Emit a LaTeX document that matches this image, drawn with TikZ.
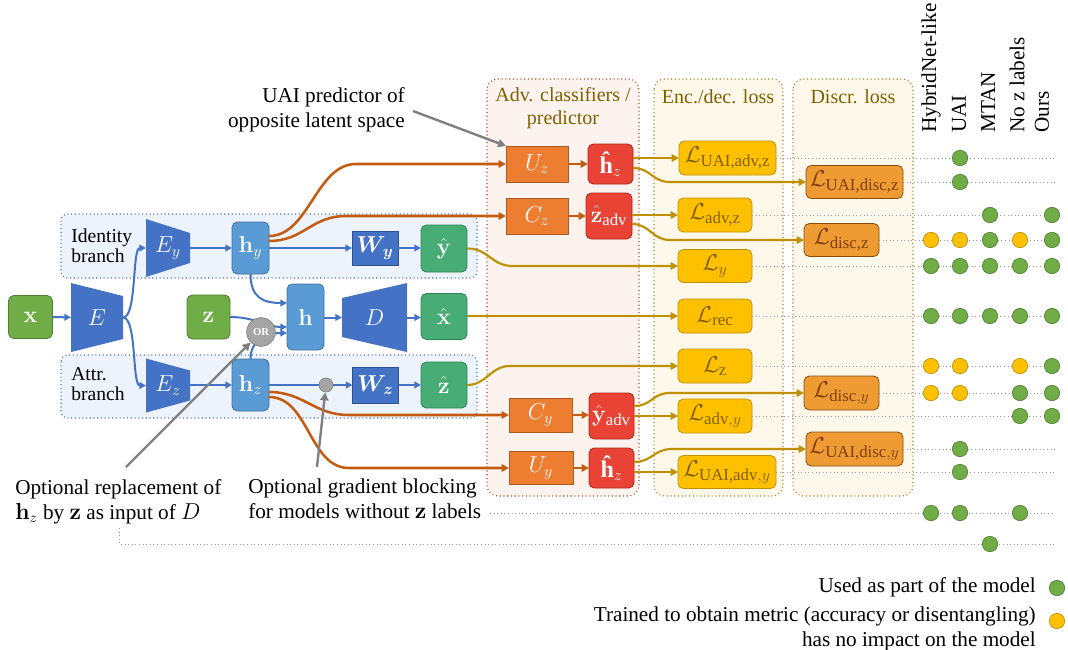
\documentclass[tikz,border=0pt]{standalone}
\usepackage{amsmath}
\usepackage[no-math]{fontspec}
\setmainfont{Liberation Serif}
\usetikzlibrary{arrows.meta,calc}
\definecolor{blueD}{HTML}{4472C4}
\definecolor{blueDd}{HTML}{2F528F}
\definecolor{blueL}{HTML}{5B9BD5}
\definecolor{blueLd}{HTML}{41719C}
\definecolor{greenA}{HTML}{70AD47}
\definecolor{greenAd}{HTML}{507E32}
\definecolor{greenB}{HTML}{48AC76}
\definecolor{greenBd}{HTML}{2E8555}
\definecolor{greyO}{HTML}{A5A5A5}
\definecolor{greyOd}{HTML}{7F7F7F}
\definecolor{orangeA}{HTML}{ED7D31}
\definecolor{orangeD}{HTML}{AE5A21}
\definecolor{redA}{HTML}{E94335}
\definecolor{redD}{HTML}{B02418}
\definecolor{yellowA}{HTML}{FFC000}
\definecolor{yellowD}{HTML}{BF9000}
\definecolor{discA}{HTML}{EE9B33}
\definecolor{discD}{HTML}{8A4A12}
\definecolor{discT}{HTML}{843C0C}
\definecolor{oliveT}{HTML}{7F6000}
\definecolor{lineO}{HTML}{C55A11}
\definecolor{lineG}{HTML}{BF9000}
\definecolor{annG}{HTML}{808080}
\definecolor{branchF}{HTML}{EDF3FC}
\definecolor{branchD}{HTML}{4F6FB0}
\definecolor{advF}{HTML}{FCF3EE}
\definecolor{advD}{HTML}{A0522D}
\definecolor{encF}{HTML}{FEF8EA}
\definecolor{encD}{HTML}{A08030}
\definecolor{rowC}{HTML}{9A9A9A}
\newcommand\fsN{\fontsize{18}{20}\selectfont}
\newcommand\fsA{\fontsize{15.9}{18.75}\selectfont}
\newcommand\fsT{\fontsize{15}{17.25}\selectfont}
\newcommand\fsB{\fontsize{14.7}{15.2}\selectfont}
\newcommand\fsL{\fontsize{18}{20}\selectfont}
\newcommand\hhat{\text{\textbf{ĥ}}}
\newcommand\trapfill[6]{%
  \fill[blueD] ({#1-#3/2},{#2-#4/2+#5}) -- ({#1+#3/2},{#2-#4/2+#6}) --
  ({#1+#3/2},{#2+#4/2-#6}) -- ({#1-#3/2},{#2+#4/2-#5}) -- cycle;}
\begin{document}
\begin{tikzpicture}[x=0.75pt,y=-0.75pt,
  sz/.style 2 args={minimum width=#1*0.75pt, minimum height=#2*0.75pt, inner sep=0pt, outer sep=0pt},
  wtxt/.style={text=white, font=\fsN},
  greenbox/.style={draw=greenAd, fill=greenA, rounded corners=4pt, line width=0.6pt, wtxt},
  outbox/.style={draw=greenBd, fill=greenB, rounded corners=4pt, line width=0.6pt, wtxt},
  latent/.style={draw=blueLd, fill=blueL, rounded corners=4pt, line width=0.6pt, wtxt},
  wbox/.style={draw=blueDd, fill=blueD, line width=0.6pt, wtxt},
  encnode/.style={wtxt},
  advbox/.style={draw=orangeD, fill=orangeA, line width=0.6pt, wtxt},
  predbox/.style={draw=redD, fill=redA, rounded corners=4pt, line width=0.6pt, wtxt},
  lossbox/.style={draw=yellowD, fill=yellowA, rounded corners=4pt, line width=0.6pt, text=oliveT, font=\fsL},
  discbox/.style={draw=discD, fill=discA, rounded corners=4pt, line width=0.6pt, text=discT, font=\fsL},
  bline/.style={draw=blueD, line width=1.5pt, -{Triangle[length=5pt,width=5pt]}},
  bplain/.style={draw=blueD, line width=1.5pt},
  oline/.style={draw=lineO, line width=1.9pt, -{Triangle[length=5.5pt,width=5.5pt]}},
  gline/.style={draw=lineG, line width=1.6pt, -{Triangle[length=5.5pt,width=5.5pt]}},
  annot/.style={draw=annG, line width=1.8pt, -{Triangle[length=6pt,width=6pt]}},
  rowline/.style={draw=rowC, line width=0.7pt, dotted},
  dotG/.style={circle, fill=greenA, draw=greenAd, line width=0.5pt, minimum size=11.5pt, inner sep=0pt},
  dotY/.style={circle, fill=yellowA, draw=yellowD, line width=0.5pt, minimum size=11.5pt, inner sep=0pt},
  panel/.style={rounded corners=8pt, dotted, line width=0.8pt},
  branch/.style={rounded corners=5pt, dotted, line width=0.8pt, draw=branchD, fill=branchF},
  ptitle/.style={text=oliveT, font=\fsT, align=center},
  hdr/.style={rotate=90, anchor=west, font=\fsA, inner sep=0pt},
  txt/.style={font=\fsA, inner sep=0pt}
]
\useasboundingbox (0,0) rectangle (1068,650);

% panels
\draw[panel, draw=advD, fill=advF] (487,79) rectangle (639,496);
\draw[panel, draw=encD, fill=encF] (654,79) rectangle (783,496);
\draw[panel, draw=encD, fill=encF] (793,79) rectangle (913,496);
\node[ptitle] (tadv) at (563,108) {Adv. classifiers /\\predictor};
\node[ptitle] (tenc) at (718,97) {Enc./dec. loss};
\node[ptitle] (tdis) at (853,97) {Discr. loss};

% branches
\draw[branch] (61,214) rectangle (477,278);
\draw[branch] (61,355) rectangle (477,418);
\node[anchor=west, align=left, font=\fsB, inner sep=0pt] (tid) at (71,246) {Identity\\branch};
\node[anchor=west, align=left, font=\fsB, inner sep=0pt] (tat) at (71,384) {Attr.\\branch};

% encoders / decoder shapes
\trapfill{97}{317.5}{52}{69}{0}{13}
\trapfill{168}{248}{44}{58}{0}{14}
\trapfill{168}{385.5}{44}{54}{0}{12}
\trapfill{374.5}{317.5}{65}{69}{15}{0}

% nodes
\node[greenbox, sz={44}{43}] (x) at (30.5,317) {$\mathbf{x}$};
\node[encnode, sz={52}{69}] (E) at (97,317.5) {$E$};
\node[encnode, sz={44}{58}] (Ey) at (168,248) {$E_y$};
\node[encnode, sz={44}{54}] (Ez) at (168,385.5) {$E_z$};
\node[latent, sz={37}{52}] (hy) at (250.5,248) {$\mathbf{h}_y$};
\node[latent, sz={37}{52}] (hz) at (250.5,385) {$\mathbf{h}_z$};
\node[greenbox, sz={43}{44}] (z) at (208.5,317) {$\mathbf{z}$};
\node[latent, sz={37}{66}] (h) at (305.5,317) {$\mathbf{h}$};
\node[encnode, sz={65}{69}] (D) at (374.5,317.5) {$D$};
\node[outbox, sz={46}{46}] (xhat) at (444,316.5) {$\hat{\mathbf{x}}$};
\node[outbox, sz={46}{47}] (yhat) at (444,248.5) {$\hat{\mathbf{y}}$};
\node[outbox, sz={46}{46}] (zhat) at (444,385) {$\hat{\mathbf{z}}$};
\node[wbox, sz={46}{34}] (Wy) at (375,248) {$\boldsymbol{W}_{\!\boldsymbol{y}}$};
\node[wbox, sz={46}{36}] (Wz) at (375.5,385) {$\boldsymbol{W}_{\!\boldsymbol{z}}$};
\node[circle, fill=greyO, draw=greyOd, line width=0.5pt, minimum size=10.5pt, inner sep=0pt] (gdot) at (326,385) {};

\node[advbox, sz={62}{36}] (Uz) at (537,164) {$U_z$};
\node[advbox, sz={62}{36}] (Cz) at (537,216) {$C_z$};
\node[advbox, sz={63}{34}] (Cy) at (540.5,415) {$C_y$};
\node[advbox, sz={64}{33}] (Uy) at (541,468) {$U_y$};
\node[predbox, sz={45}{40}] (hzt) at (610.5,164) {$\hhat_z$};
\node[predbox, sz={46}{46}] (zadv) at (609,216) {$\hat{\mathbf{z}}_{\text{adv}}$};
\node[predbox, sz={45}{46}] (yadv) at (611.5,416) {$\hat{\mathbf{y}}_{\text{adv}}$};
\node[predbox, sz={45}{40}] (hzb) at (611.5,468) {$\hhat_z$};

\node[lossbox, sz={97}{34}] (Luaiadvz) at (727.5,158) {$\mathcal{L}_{\text{UAI,adv,z}}$};
\node[lossbox, sz={74}{34}] (Ladvz) at (715,215) {$\mathcal{L}_{\text{adv,z}}$};
\node[lossbox, sz={74}{33}] (Ly) at (715,266) {$\mathcal{L}_{y}$};
\node[lossbox, sz={74}{34}] (Lrec) at (715,316) {$\mathcal{L}_{\text{rec}}$};
\node[lossbox, sz={74}{34}] (Lz) at (715,366) {$\mathcal{L}_{\text{z}}$};
\node[lossbox, sz={74}{34}] (Ladvy) at (715,416) {$\mathcal{L}_{\text{adv},y}$};
\node[lossbox, sz={98}{33}] (Luaiadvy) at (727,472) {$\mathcal{L}_{\text{UAI,adv},y}$};
\node[discbox, sz={97}{33}] (Luaidiscz) at (854.5,182) {$\mathcal{L}_{\text{UAI,disc,z}}$};
\node[discbox, sz={75}{33}] (Ldiscz) at (841.5,240) {$\mathcal{L}_{\text{disc,z}}$};
\node[discbox, sz={75}{34}] (Ldiscy) at (841.5,393) {$\mathcal{L}_{\text{disc},y}$};
\node[discbox, sz={97}{34}] (Luaidiscy) at (854.5,449) {$\mathcal{L}_{\text{UAI,disc},y}$};

% annotations text
\node[txt, anchor=east, align=right] (annotU) at (405,110) {UAI predictor of\\opposite latent space};
\node[txt, anchor=north west, align=left] (annotOR) at (15,479) {Optional replacement of\\$\mathbf{h}_z$ by $\mathbf{z}$ as input of $D$};
\node[txt, anchor=north west, align=left] (annotG) at (248,479) {Optional gradient blocking\\for models without $\mathbf{z}$ labels};

% column headers
\node[hdr] (c1) at (931,133) {HybridNet-like};
\node[hdr] (c2) at (959,133) {UAI};
\node[hdr] (c3) at (988,133) {MTAN};
\node[hdr] (c4) at (1017,133) {No z labels};
\node[hdr] (c5) at (1042,133) {Ours};

% row lines
\coordinate (xend) at (1055,0);
\foreach \n in {Luaiadvz,Luaidiscz,Ladvz,Ldiscz,Ly,Lrec,Lz,Ldiscy,Ladvy,Luaidiscy,Luaiadvy}
  \draw[rowline] (\n.east) -- (\n.east -| xend);
\coordinate (r12s) at (490,513);
\draw[rowline] (r12s) -- (r12s -| xend);
\coordinate (r13s) at (119,528);
\draw[rowline] (r13s) |- (1055,544);

% dots
\foreach \cx/\cy/\s [count=\i] in {
  960/158/G, 960/182/G, 990/215/G, 1052/215/G,
  931/240/Y, 960/240/Y, 990/240/G, 1020/240/Y, 1052/240/G,
  931/266/G, 960/266/G, 990/266/G, 1020/266/G, 1052/266/G,
  931/316/G, 960/316/G, 990/316/G, 1020/316/G, 1052/316/G,
  931/366/Y, 960/366/Y, 1020/366/Y, 1052/366/G,
  931/393/Y, 960/393/Y, 1020/393/G, 1052/393/G,
  1020/416/G, 1052/416/G, 960/449/G, 960/472/G,
  931/513/G, 960/513/G, 1020/513/G, 990/544/G}
  \node[dot\s] (dot\i) at (\cx,\cy) {};

% legend
\node[dotG] (legG) at (1057,588) {};
\node[dotY] (legY) at (1057,621) {};
\node[txt, anchor=east] (legGt) at (1036,587) {Used as part of the model};
\node[txt, anchor=east, align=right] (legYt) at (1036,629) {Trained to obtain metric (accuracy or disentangling)\\has no impact on the model};

% blue connectors
\draw[bline] (x) -- (E);
\draw[bline] (E.east) .. controls +(14,0) and +(-14,0) .. (Ey.west);
\draw[bline] (E.east) .. controls +(14,0) and +(-14,0) .. (Ez.west);
\draw[bline] (Ey.east |- hy.west) -- (hy.west);
\draw[bline] (Ez.east |- hz.west) -- (hz.west);
\draw[bline] (hy) -- (Wy);
\draw[bline] (Wy) -- (yhat.west |- Wy.east);
\draw[bplain] (hz) -- (gdot);
\draw[bline] (gdot) -- (Wz);
\draw[bline] (Wz) -- (zhat.west |- Wz.east);
\draw[bline] (hy.south) .. controls +(0,25) and +(-22,0) .. ($(h.west)+(0,-14)$);
\draw[bline] (z.east) .. controls +(25,0) and +(-20,0) .. ($(h.west)+(0,10)$);
\draw[bline] (hz.north) .. controls +(0,-18) and +(-22,0) .. ($(h.west)+(0,16)$);
\draw[bline] (h.east |- D.west) -- (D.west);
\draw[bline] (D.east) -- (xhat.west |- D.east);
\node[circle, fill=greyO, draw=greyOd, line width=0.5pt, minimum size=21.5pt, inner sep=0pt, text=white, font=\bfseries\fontsize{8}{8}\selectfont] (OR) at (261,332) {OR};

% orange connectors
\draw[oline] ($(hy.east)+(0,-12)$) .. controls +(40,0) and +(-40,0) .. ($(Uz.west)+(-150,0)$) -- (Uz.west);
\draw[oline] ($(hy.east)+(0,-7)$) .. controls +(35,0) and +(-35,0) .. ($(Cz.west)+(-160,0)$) -- (Cz.west);
\draw[oline] ($(hz.east)+(0,7)$) .. controls +(35,0) and +(-35,0) .. ($(Cy.west)+(-160,0)$) -- (Cy.west);
\draw[oline] ($(hz.east)+(0,12)$) .. controls +(40,0) and +(-40,0) .. ($(Uy.west)+(-160,0)$) -- (Uy.west);
\draw[oline] (Uz) -- (hzt);
\draw[oline] (Cz) -- (zadv);
\draw[oline] (Cy.east) -- (yadv.west |- Cy.east);
\draw[oline] (Uy) -- (hzb);

% gold connectors
\draw[gline] (hzt.east |- Luaiadvz.west) -- (Luaiadvz.west);
\draw[gline] ($(hzt.east)+(0,4)$) .. controls +(18,0) and +(-18,0) .. ($(Luaidiscz.west)+(-136,0)$) -- (Luaidiscz.west);
\draw[gline] (zadv.east |- Ladvz.west) -- (Ladvz.west);
\draw[gline] ($(zadv.east)+(0,8)$) .. controls +(18,0) and +(-18,0) .. ($(Ldiscz.west)+(-134,0)$) -- (Ldiscz.west);
\draw[gline] (yhat.east) .. controls +(22,0) and +(-22,0) .. ($(Ly.west)+(-165,0)$) -- (Ly.west);
\draw[gline] (xhat.east |- Lrec.west) -- (Lrec.west);
\draw[gline] (zhat.east) .. controls +(20,0) and +(-20,0) .. ($(Lz.west)+(-168,0)$) -- (Lz.west);
\draw[gline] (yadv.east |- Ladvy.west) -- (Ladvy.west);
\draw[gline] ($(yadv.east)+(0,-10)$) .. controls +(18,0) and +(-18,0) .. ($(Ldiscy.west)+(-134,0)$) -- (Ldiscy.west);
\draw[gline] (hzb.east |- Luaiadvy.west) -- (Luaiadvy.west);
\draw[gline] ($(hzb.east)+(0,-6)$) .. controls +(18,0) and +(-18,0) .. ($(Luaidiscy.west)+(-134,0)$) -- (Luaidiscy.west);

% annotation arrows
\draw[annot] ($(annotU.east)+(8,1)$) -- (Uz.north west);
\draw[annot] ($(annotOR.north west)+(111,-12)$) -- (OR);
\draw[annot] ($(annotG.north west)+(69,-12)$) -- (gdot);
\end{tikzpicture}
\end{document}
